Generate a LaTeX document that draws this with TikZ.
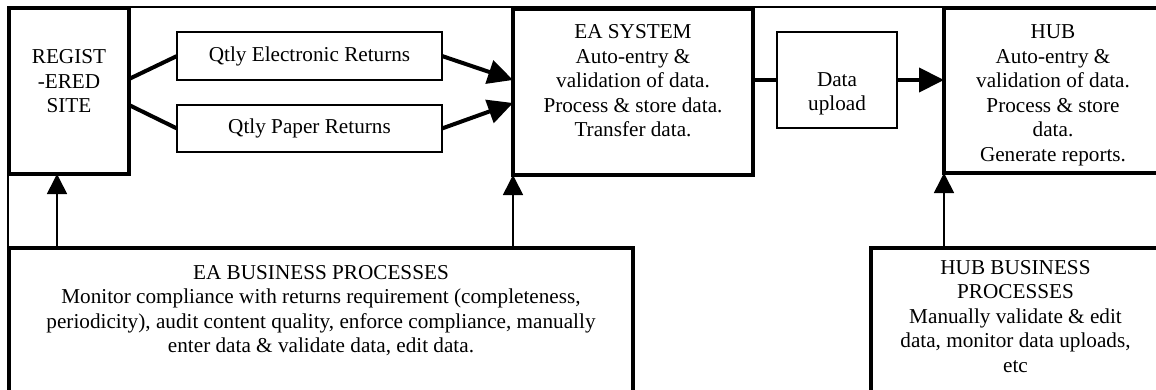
\documentclass[tikz,border=0pt]{standalone}
\usepackage{fontspec}
\setmainfont{Liberation Serif}
\usetikzlibrary{arrows.meta}

\begin{document}
\begin{tikzpicture}[x=0.5pt, y=-0.5pt,
    every node/.style={font=\fontsize{10.6}{12.25}\selectfont},
    sysbox/.style={draw, line width=2pt, inner sep=0pt, outer sep=0pt},
    flowbox/.style={draw, line width=0.85pt, inner sep=0pt, outer sep=0pt},
    boxtext/.style={align=center, inner sep=0pt},
    flowline/.style={line width=2pt},
    flowarrow/.style={line width=2pt, -{Triangle[length=12.5pt, width=12pt]}},
    uparrow/.style={line width=0.8pt, -{Triangle[length=10pt, width=10pt]}}
  ]
  % Page size, the right and bottom boxes run off it
  \useasboundingbox (0,0) rectangle (1156,390);
  \clip (0,0) rectangle (1156,390);

  % Thin outer frame
  \draw[line width=0.75pt] (8,7) rectangle (1300,500);

  % Registered site and the two kinds of returns
  \node[sysbox, minimum width=60pt, minimum height=83pt] (site) at (69,91) {};
  \node[boxtext] (sitetxt) at (69,81.5) {REGIST\\-ERED\\SITE};

  \node[flowbox, minimum width=132.5pt, minimum height=24pt] (elec) at (309.5,56) {Qtly Electronic Returns};
  \node[flowbox, minimum width=132.5pt, minimum height=23.5pt] (paper) at (309.5,128.5) {Qtly Paper Returns};

  % EA system
  \node[sysbox, minimum width=120pt, minimum height=83pt] (eas) at (633,92) {};
  \node[boxtext] (eastxt) at (633,81) {EA SYSTEM\\Auto-entry \&\\validation of data.\\Process \& store data.\\Transfer data.};

  % Upload to the hub
  \node[flowbox, minimum width=60pt, minimum height=48pt] (upload) at (837,80) {};
  \node[boxtext] (uploadtxt) at (837,94) {Data\\upload};

  \node[sysbox, minimum width=109pt, minimum height=82.5pt] (hub) at (1053,90.5) {};
  \node[boxtext] (hubtxt) at (1053,95.5) {HUB\\Auto-entry \&\\validation of data.\\Process \& store\\data.\\Generate reports.};

  % Business processes along the bottom
  \node[sysbox, minimum width=312pt, minimum height=86pt] (eabp) at (321,334) {};
  \node[boxtext] (eabptxt) at (321,310.5) {EA BUSINESS PROCESSES\\Monitor compliance with returns requirement (completeness,\\periodicity), audit content quality, enforce compliance, manually\\enter data \& validate data, edit data.};

  \node[sysbox, minimum width=144.5pt, minimum height=86pt] (hubbp) at (1015.5,333.5) {};
  \node[boxtext] (hubbptxt) at (1015.5,316.5) {HUB BUSINESS\\PROCESSES\\Manually validate \& edit\\data, monitor data uploads,\\etc};

  % Returns flow
  \draw[flowline] ([yshift=6pt]site.east) -- (elec.west);
  \draw[flowline] ([yshift=-7pt]site.east) -- (paper.west);
  \draw[flowarrow] (elec.east) -- ([yshift=6pt]eas.west);
  \draw[flowarrow] (paper.east) -- ([yshift=-5.5pt]eas.west);
  \draw[flowline] (eas.east |- upload.west) -- (upload.west);
  \draw[flowarrow] (upload.east) -- (upload.east -| hub.west);

  % Processes feeding up
  \draw[uparrow] ([xshift=-6pt]site.south |- eabp.north) -- ([xshift=-6pt]site.south);
  \draw[uparrow] (eas.south west |- eabp.north) -- (eas.south west);
  \draw[uparrow] (hub.south west |- hubbp.north) -- (hub.south west);
\end{tikzpicture}
\end{document}
